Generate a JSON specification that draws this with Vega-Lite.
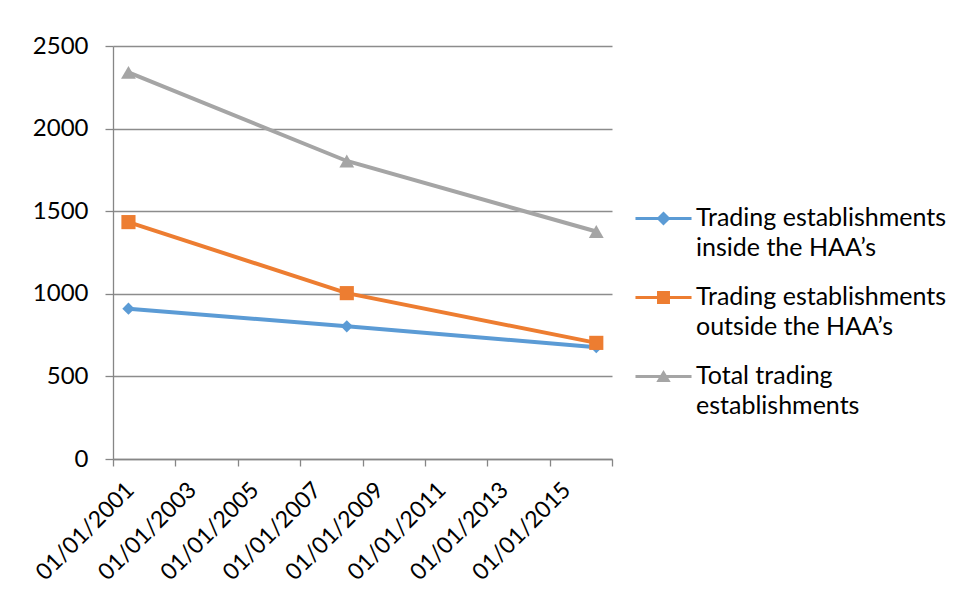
{
  "$schema": "https://vega.github.io/schema/vega-lite/v6.json",
  "width": 499,
  "height": 413,
  "autosize": {"type": "none"},
  "padding": {"left": 113, "top": 46, "right": 348, "bottom": 149},
  "background": "white",
  "config": {"view": {"stroke": null}, "font": "Lato"},
  "data": {
    "values": [
      {"date": "2001-07-01", "series": "Trading establishments|inside the HAA’s", "value": 910},
      {"date": "2008-07-01", "series": "Trading establishments|inside the HAA’s", "value": 803},
      {"date": "2016-07-01", "series": "Trading establishments|inside the HAA’s", "value": 677},
      {"date": "2001-07-01", "series": "Trading establishments|outside the HAA’s", "value": 1434},
      {"date": "2008-07-01", "series": "Trading establishments|outside the HAA’s", "value": 1004},
      {"date": "2016-07-01", "series": "Trading establishments|outside the HAA’s", "value": 703},
      {"date": "2001-07-01", "series": "Total trading|establishments", "value": 2340},
      {"date": "2008-07-01", "series": "Total trading|establishments", "value": 1804},
      {"date": "2016-07-01", "series": "Total trading|establishments", "value": 1377}
    ]
  },
  "encoding": {
    "x": {
      "field": "date",
      "type": "temporal",
      "scale": {"type": "utc", "domain": [{"year": 2001, "month": 1, "date": 1, "utc": true}, {"year": 2017, "month": 1, "date": 1, "utc": true}]},
      "axis": {
        "title": null,
        "grid": false,
        "values": [
          {"year": 2001, "month": 1, "date": 1, "utc": true},
          {"year": 2003, "month": 1, "date": 1, "utc": true},
          {"year": 2005, "month": 1, "date": 1, "utc": true},
          {"year": 2007, "month": 1, "date": 1, "utc": true},
          {"year": 2009, "month": 1, "date": 1, "utc": true},
          {"year": 2011, "month": 1, "date": 1, "utc": true},
          {"year": 2013, "month": 1, "date": 1, "utc": true},
          {"year": 2015, "month": 1, "date": 1, "utc": true},
          {"year": 2017, "month": 1, "date": 1, "utc": true}
        ],
        "format": "%d/%m/%Y",
        "labelExpr": "utcyear(datum.value) == 2017 ? '' : datum.label",
        "labelAngle": -45,
        "labelAlign": "right",
        "labelBaseline": "middle",
        "labelOffset": 17,
        "labelPadding": 20,
        "labelFontSize": 23,
        "labelColor": "#000000",
        "labelOverlap": false,
        "labelFlush": false,
        "domainColor": "#868686",
        "domainWidth": 1.3,
        "tickColor": "#868686",
        "tickWidth": 1.3,
        "tickSize": 7
      }
    },
    "y": {
      "field": "value",
      "type": "quantitative",
      "scale": {"domain": [0, 2500]},
      "axis": {
        "title": null,
        "values": [0, 500, 1000, 1500, 2000, 2500],
        "format": "d",
        "grid": true,
        "gridColor": "#8c8c8c",
        "gridWidth": 1.3,
        "domainColor": "#868686",
        "domainWidth": 1.3,
        "tickColor": "#868686",
        "tickWidth": 1.3,
        "tickSize": 8,
        "labelPadding": 17,
        "labelFontSize": 24,
        "labelColor": "#000000",
        "labelFlush": false
      }
    },
    "color": {
      "field": "series",
      "type": "nominal",
      "scale": {
        "domain": ["Trading establishments|inside the HAA’s", "Trading establishments|outside the HAA’s", "Total trading|establishments"],
        "range": ["#5B9BD5", "#ED7D31", "#A5A5A5"]
      },
      "legend": {
        "title": null,
        "orient": "none",
        "legendX": 538,
        "legendY": 160,
        "padding": 0,
        "symbolSize": 144,
        "labelOffset": 20,
        "labelFontSize": 25,
        "labelColor": "#000000",
        "labelLimit": 400,
        "labelBaseline": "top",
        "rowPadding": 23,
        "labelExpr": "split(datum.label, '|')",
        "encode": {
          "labels": {"update": {"lineHeight": {"value": 30}, "dy": {"value": -13}}},
          "symbols": {
            "update": {
              "shape": {"signal": "indexof(datum.value, 'inside') >= 0 ? 'M-4.67,-0.25H4.67V0.25H-4.67Z M0,-1.17L1.17,0L0,1.17L-1.17,0Z' : indexof(datum.value, 'outside') >= 0 ? 'M-4.67,-0.25H4.67V0.25H-4.67Z M-1.08,-1.08H1.08V1.08H-1.08Z' : 'M-4.67,-0.25H4.67V0.25H-4.67Z M0,-1.1L1.2,0.9H-1.2Z'"},
              "size": {"value": 144},
              "fill": {"signal": "indexof(datum.value, 'inside') >= 0 ? '#5B9BD5' : indexof(datum.value, 'outside') >= 0 ? '#ED7D31' : '#A5A5A5'"},
              "stroke": {"value": "transparent"},
              "strokeWidth": {"value": 0},
              "opacity": {"value": 1}
            }
          }
        }
      }
    }
  },
  "layer": [
    {"mark": {"type": "line", "strokeWidth": 4}},
    {
      "transform": [{"filter": "indexof(datum.series, 'inside') >= 0"}],
      "mark": {"type": "point", "filled": true, "opacity": 1, "shape": "diamond", "size": 150}
    },
    {
      "transform": [{"filter": "indexof(datum.series, 'outside') >= 0"}],
      "mark": {"type": "point", "filled": true, "opacity": 1, "shape": "square", "size": 200}
    },
    {
      "transform": [{"filter": "indexof(datum.series, 'Total') >= 0"}],
      "mark": {"type": "point", "filled": true, "opacity": 1, "shape": "triangle-up", "size": 220}
    }
  ]
}
